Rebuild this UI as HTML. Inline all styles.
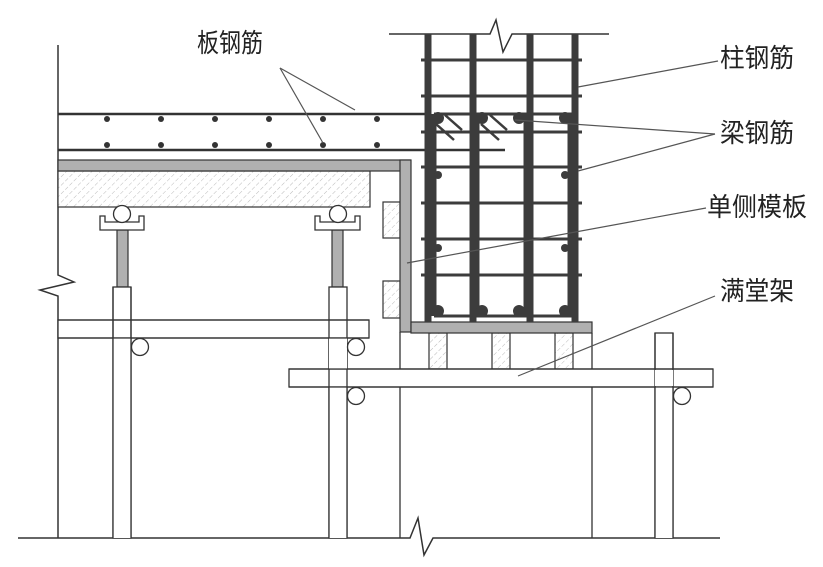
<!DOCTYPE html>
<html><head><meta charset="utf-8"><style>html,body{margin:0;padding:0;background:#fff}svg{display:block}</style></head>
<body>
<svg width="823" height="567" viewBox="0 0 823 567" xmlns="http://www.w3.org/2000/svg">
<defs>
<pattern id="h" width="6" height="6" patternUnits="userSpaceOnUse" patternTransform="rotate(45)">
<rect width="6" height="6" fill="#fff"/><line x1="0" y1="0" x2="0" y2="6" stroke="#bbb" stroke-width="1" stroke-dasharray="4 2"/>
</pattern>
</defs>
<g fill="none" stroke="#333" stroke-width="1.5">
<!-- left wall -->
<polyline points="58,45 58,275 74,282 40,290 58,296 58,538"/>
<!-- ground -->
<polyline points="18,538 410,538 418,518 424,555 433,538 720,538"/>
<!-- column top -->
<polyline points="389,34 490,34 496,20 503,52 512,34 609,34"/>
<!-- slab lines -->
<line x1="58" y1="114" x2="430" y2="114" stroke-width="2.5"/>
<line x1="58" y1="150" x2="505" y2="150" stroke-width="2.5"/>
</g>
<!-- slab dots -->
<g fill="#333">
<circle cx="107" cy="119" r="3"/><circle cx="161" cy="119" r="3"/><circle cx="215" cy="119" r="3"/><circle cx="269" cy="119" r="3"/><circle cx="323" cy="119" r="3"/><circle cx="377" cy="119" r="3"/>
<circle cx="107" cy="145" r="3"/><circle cx="161" cy="145" r="3"/><circle cx="215" cy="145" r="3"/><circle cx="269" cy="145" r="3"/><circle cx="323" cy="145" r="3"/><circle cx="377" cy="145" r="3"/>
</g>
<!-- hatched slab block -->
<rect x="58" y="171" width="312" height="36" fill="url(#h)" stroke="#333" stroke-width="1.2"/>
<!-- pads -->
<rect x="383" y="202" width="17" height="36" fill="url(#h)" stroke="#333" stroke-width="1.2"/>
<rect x="383" y="281" width="17" height="37" fill="url(#h)" stroke="#333" stroke-width="1.2"/>
<rect x="429" y="333" width="18" height="36" fill="url(#h)" stroke="#333" stroke-width="1.2"/>
<rect x="492" y="333" width="18" height="36" fill="url(#h)" stroke="#333" stroke-width="1.2"/>
<rect x="555" y="333" width="18" height="36" fill="url(#h)" stroke="#333" stroke-width="1.2"/>
<!-- gray formwork -->
<g fill="#b0b0b0" stroke="#333" stroke-width="1.2">
<rect x="58" y="160" width="352" height="11"/>
<rect x="400" y="160" width="11" height="172"/>
<rect x="411" y="322" width="181" height="11"/>
<rect x="117" y="230" width="11" height="57"/>
<rect x="332" y="230" width="11" height="57"/>
</g>
<g fill="#fff" stroke="#333" stroke-width="1.3">
<!-- walls below beam -->
<line x1="400" y1="332" x2="400" y2="538"/>
<line x1="592" y1="333" x2="592" y2="538"/>
<!-- tubes -->
<rect x="113" y="287" width="18" height="251"/>
<rect x="329" y="287" width="18" height="251"/>
<rect x="655" y="333" width="18" height="205"/>
<!-- ledgers -->
<rect x="58" y="320" width="311" height="18"/>
<rect x="289" y="369" width="424" height="18"/>
<line x1="113" y1="320" x2="113" y2="338"/><line x1="131" y1="320" x2="131" y2="338"/>
<line x1="329" y1="320" x2="329" y2="338"/><line x1="347" y1="320" x2="347" y2="338"/>
<rect x="113" y="338" width="18" height="200" stroke="none"/>
<line x1="113" y1="287" x2="113" y2="538"/><line x1="131" y1="287" x2="131" y2="538"/>
<rect x="329" y="387" width="18" height="151" stroke="none"/>
<line x1="329" y1="338" x2="329" y2="538"/><line x1="347" y1="338" x2="347" y2="538"/>
<rect x="329" y="338" width="18" height="31" stroke="none"/>
<rect x="655" y="387" width="18" height="151" stroke="none"/>
<line x1="655" y1="333" x2="655" y2="538"/><line x1="673" y1="333" x2="673" y2="538"/>
<rect x="655" y="370" width="18" height="16" stroke="none"/>
<line x1="329" y1="369" x2="347" y2="369" stroke="none"/>
<!-- U channels -->
<path d="M100,216 H105 V222 H139 V216 H144 V230 H100 Z"/>
<path d="M315,216 H320 V222 H355 V216 H360 V230 H315 Z"/>
<!-- circles -->
<circle cx="122" cy="214" r="8.5"/>
<circle cx="338" cy="214" r="8.5"/>
<circle cx="140" cy="347" r="8.5"/>
<circle cx="356" cy="347" r="8.5"/>
<circle cx="356" cy="396" r="8.5"/>
<circle cx="682" cy="396" r="8.5"/>
</g>
<!-- column ledger crossing fix -->
<g stroke="#333" stroke-width="1.3">
<line x1="289" y1="369" x2="713" y2="369"/>
<line x1="289" y1="387" x2="713" y2="387"/>
<line x1="58" y1="320" x2="369" y2="320"/>
<line x1="58" y1="338" x2="369" y2="338"/>
</g>
<!-- column rebar -->
<g stroke="#3c3c3c">
<g stroke-width="3">
<line x1="421" y1="60" x2="582" y2="60"/><line x1="421" y1="96" x2="582" y2="96"/><line x1="421" y1="132" x2="582" y2="132"/><line x1="421" y1="167" x2="582" y2="167"/><line x1="421" y1="203" x2="582" y2="203"/><line x1="421" y1="239" x2="582" y2="239"/><line x1="421" y1="275" x2="582" y2="275"/>
<path d="M434,114 H572 M434,316 H572" />
</g>
<g stroke-width="7">
<line x1="428" y1="34" x2="428" y2="322"/><line x1="473" y1="34" x2="473" y2="322"/><line x1="530" y1="34" x2="530" y2="322"/><line x1="575" y1="34" x2="575" y2="322"/>
</g>
<g stroke-width="5">
<line x1="434" y1="114" x2="434" y2="316"/><line x1="477" y1="114" x2="477" y2="316"/><line x1="526" y1="114" x2="526" y2="316"/><line x1="570" y1="114" x2="570" y2="316"/>
</g>
<g stroke-width="2.5">
<line x1="445" y1="115" x2="462" y2="130"/><line x1="436" y1="124" x2="454" y2="140"/>
<line x1="490" y1="115" x2="507" y2="130"/><line x1="481" y1="124" x2="499" y2="140"/>
</g>
</g>
<g fill="#3c3c3c">
<circle cx="438" cy="118" r="6"/><circle cx="482" cy="118" r="6"/><circle cx="519" cy="118" r="6"/><circle cx="565" cy="118" r="6"/>
<circle cx="438" cy="311" r="6"/><circle cx="482" cy="311" r="6"/><circle cx="519" cy="311" r="6"/><circle cx="565" cy="311" r="6"/>
<circle cx="438" cy="175" r="4"/><circle cx="565" cy="175" r="4"/><circle cx="438" cy="248" r="4"/><circle cx="565" cy="248" r="4"/>
</g>
<!-- leaders -->
<g stroke="#555" stroke-width="1.2">
<line x1="280" y1="68" x2="355" y2="110"/><line x1="280" y1="68" x2="323" y2="143"/>
<line x1="718" y1="61" x2="578" y2="87"/>
<line x1="715" y1="134" x2="515" y2="120"/><line x1="715" y1="134" x2="578" y2="171"/>
<line x1="706" y1="208" x2="407" y2="263"/>
<line x1="715" y1="296" x2="518" y2="376"/>
</g>
<g font-family="'Liberation Sans','Noto Sans CJK SC',sans-serif" font-size="26" fill="#222">
<text x="197" y="52" textLength="66" lengthAdjust="spacingAndGlyphs">板钢筋</text>
<text x="720" y="67" textLength="74" lengthAdjust="spacingAndGlyphs">柱钢筋</text>
<text x="720" y="142" textLength="74" lengthAdjust="spacingAndGlyphs">梁钢筋</text>
<text x="707" y="216" textLength="100" lengthAdjust="spacingAndGlyphs">单侧模板</text>
<text x="720" y="300" textLength="74" lengthAdjust="spacingAndGlyphs">满堂架</text>
</g>
</svg>
</body></html>
